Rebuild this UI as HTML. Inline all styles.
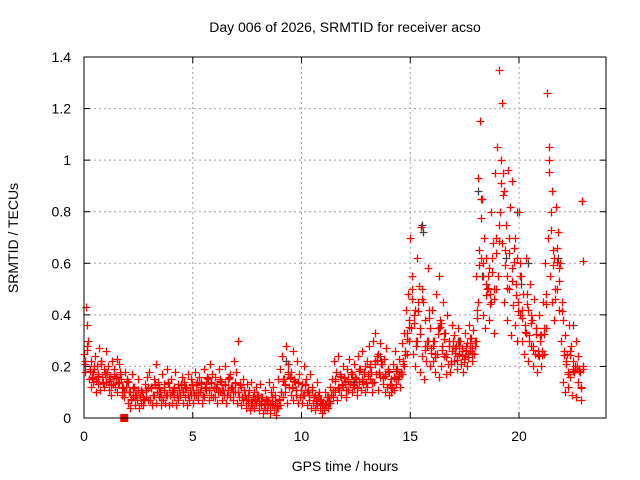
<!DOCTYPE html>
<html><head><meta charset="utf-8"><style>
body{margin:0;background:#fff}
svg{display:block;font-family:"Liberation Sans",sans-serif}
</style></head><body>
<svg id="chart" width="640" height="480">
<rect width="640" height="480" fill="#fff"/>
<g id="grid"></g>
<g id="axes"></g>
<g id="points"></g>
<rect x="84" y="57" width="522" height="361" fill="none" stroke="#000" stroke-width="1"/>
<text x="345" y="32" text-anchor="middle" font-size="14">Day 006 of 2026, SRMTID for receiver acso</text>
<text x="345" y="471" text-anchor="middle" font-size="14">GPS time / hours</text>
<text x="18" y="238" text-anchor="middle" font-size="14" transform="rotate(-90 18 238)">SRMTID / TECUs</text>
</svg>
<script>
const xTicks=[0,5,10,15,20];
const yTicks=[0,0.2,0.4,0.6,0.8,1,1.2,1.4];
const yTickLabels=["0","0.2","0.4","0.6","0.8","1","1.2","1.4"];
const seriesA=[.25,.43,.30,.22,.18,.24,.20,.27,.22,.19,.26,.20,.16,.22,.19,.23,.21,.15,.12,.18,.14,.10,.17,.12,.09,.15,.11,.08,.13,.16,.18,.12,.15,.21,.14,.10,.17,.13,.19,.12,.15,.11,.18,.13,.09,.16,.14,.12,.17,.15,.11,.18,.14,.16,.12,.19,.13,.15,.21,.17,.16,.13,.19,.14,.11,.20,.15,.17,.12,.22,.18,.30,.12,.15,.09,.13,.11,.14,.10,.12,.09,.13,.08,.11,.07,.14,.10,.12,.09,.15,.19,.24,.15,.28,.21,.18,.26,.14,.22,.17,.13,.20,.15,.11,.17,.12,.09,.14,.10,.07,.06,.10,.08,.12,.15,.22,.18,.24,.16,.20,.14,.19,.23,.17,.21,.15,.24,.19,.26,.20,.22,.28,.18,.30,.33,.25,.29,.21,.23,.27,.18,.15,.21,.26,.19,.23,.29,.33,.42,.48,.70,.55,.42,.62,.51,.74,.45,.38,.58,.35,.42,.30,.48,.55,.37,.45,.33,.40,.28,.36,.32,.28,.35,.30,.27,.33,.29,.36,.31,.34,.55,.93,1.15,.85,.70,.62,.58,.80,.68,.95,1.05,1.35,1.22,.88,.75,.96,.82,.92,.70,.62,.80,.55,.48,.62,.42,.52,.38,.46,.35,.40,.32,.45,.60,1.26,1.00,.88,.62,.82,.72,.60,.38,.32,.25,.36,.28,.22,.30,.24,.18,.84];
const seriesB=[.18,.36,.15,.12,.14,.10,.13,.11,.16,.12,.14,.11,.09,.13,.12,.10,.14,.09,.08,.12,.06,.04,.08,.05,.07,.04,.06,.05,.08,.07,.07,.05,.09,.06,.08,.05,.07,.06,.09,.05,.06,.08,.05,.07,.09,.06,.08,.05,.07,.09,.06,.09,.07,.10,.06,.08,.11,.07,.09,.08,.08,.06,.10,.07,.09,.06,.11,.08,.07,.10,.06,.08,.05,.07,.04,.06,.03,.05,.04,.06,.03,.05,.02,.04,.03,.02,.05,.03,.01,.04,.05,.08,.10,.06,.12,.09,.07,.11,.06,.08,.06,.09,.05,.07,.04,.06,.03,.05,.04,.02,.03,.05,.04,.06,.08,.10,.07,.11,.09,.12,.08,.11,.13,.10,.12,.09,.14,.11,.13,.10,.12,.15,.10,.14,.17,.11,.16,.13,.10,.12,.09,.10,.11,.13,.15,.12,.17,.20,.25,.30,.35,.25,.20,.30,.18,.24,.15,.22,.30,.20,.22,.18,.25,.16,.20,.24,.17,.21,.18,.26,.22,.19,.25,.21,.18,.24,.20,.26,.22,.25,.30,.45,.62,.40,.35,.50,.38,.45,.33,.50,.55,.80,.68,.45,.38,.50,.32,.44,.36,.30,.40,.30,.25,.33,.22,.28,.20,.25,.18,.24,.20,.25,.35,.70,.55,.45,.38,.50,.42,.30,.14,.10,.12,.16,.09,.18,.08,.14,.07,.61];
const seriesC=[.22,.28,.19,.16,.20,.15,.17,.22,.14,.18,.18,.15,.13,.17,.16,.14,.18,.12,.10,.15,.10,.07,.12,.09,.11,.08,.10,.07,.11,.12,.12,.09,.13,.10,.12,.08,.11,.09,.14,.09,.10,.12,.09,.11,.13,.10,.12,.09,.11,.13,.09,.13,.10,.14,.09,.12,.16,.11,.14,.12,.12,.10,.15,.11,.13,.09,.16,.12,.10,.14,.10,.13,.08,.11,.07,.09,.06,.08,.07,.09,.06,.08,.05,.07,.06,.05,.08,.06,.04,.07,.10,.15,.13,.18,.16,.12,.15,.09,.14,.11,.09,.13,.10,.09,.11,.08,.06,.09,.07,.05,.05,.08,.06,.09,.11,.15,.12,.17,.13,.16,.11,.15,.18,.13,.16,.12,.19,.15,.18,.14,.17,.21,.14,.22,.24,.18,.22,.16,.17,.19,.13,.12,.16,.19,.17,.18,.22,.26,.33,.38,.50,.40,.30,.45,.35,.50,.28,.30,.42,.27,.30,.25,.35,.38,.28,.33,.25,.30,.22,.30,.27,.24,.30,.26,.23,.28,.25,.31,.27,.30,.42,.65,.85,.60,.52,.55,.48,.62,.50,.70,.75,1.0,.95,.65,.55,.70,.58,.66,.52,.45,.60,.42,.36,.48,.32,.40,.28,.35,.26,.32,.26,.35,.48,1.05,.80,.65,.50,.66,.58,.45,.26,.22,.18,.26,.19,.20,.20,.19,.12,.20];
const grayTimes=[15.55,15.6,18.1,18.3,19.4,19.9,20.1,20.4,21.8,22.5,16.3,17.2,13.6,22.9,9.3,12.4];
const grayValues=[.75,.72,.88,.55,.62,.80,.52,.60,.62,.36,.35,.30,.24,.84,.22,.14];
const timeStep=0.1;

const X0=84,X1=606,Y0=418,Y1=57,XMAX=24,YMAX=1.4;
const sx=v=>X0+v/XMAX*(X1-X0);
const sy=v=>Y0-v/YMAX*(Y0-Y1);
const NS="http://www.w3.org/2000/svg";
const grid=document.getElementById('grid'),axes=document.getElementById('axes'),pts=document.getElementById('points');
function mk(tag,attrs,parent){const e=document.createElementNS(NS,tag);for(const k in attrs)e.setAttribute(k,attrs[k]);parent.appendChild(e);return e;}
xTicks.forEach(t=>{const x=sx(t);
 if(t>0){const g=mk('line',{x1:x,x2:x,y1:Y1,y2:Y0,stroke:'#a0a0a0','stroke-dasharray':'2,3'},grid);
 
 }
 mk('line',{x1:x,x2:x,y1:Y0,y2:Y0-6,stroke:'#000'},axes);
 mk('line',{x1:x,x2:x,y1:Y1,y2:Y1+6,stroke:'#000'},axes);
 const l=mk('text',{x:x,y:Y0+23,'text-anchor':'middle','font-size':14},axes);l.textContent=t;
 
 });
yTicks.forEach((t,i)=>{const y=sy(t);
 if(t>0&&t<YMAX){const g=mk('line',{x1:X0,x2:X1,y1:y,y2:y,stroke:'#a0a0a0','stroke-dasharray':'2,3'},grid);
 
 }
 mk('line',{x1:X0,x2:X0+6,y1:y,y2:y,stroke:'#000'},axes);
 mk('line',{x1:X1,x2:X1-6,y1:y,y2:y,stroke:'#000'},axes);
 const l=mk('text',{x:X0-13,y:y+5,'text-anchor':'end','font-size':14},axes);l.textContent=yTickLabels[i];
 
 });
function plus(t,v,color,name){const x=Math.round(sx(t))+0.5,y=Math.round(sy(v))+0.5;
 const p=mk('path',{d:`M${x-4} ${y}H${x+4}M${x} ${y-4}V${y+4}`,stroke:color,'stroke-width':1.3,fill:'none'},pts);
 
 }
grayTimes.forEach((t,i)=>plus(t,grayValues[i],'#404040','gray-point'));
[seriesA,seriesB,seriesC].forEach((s,k)=>s.forEach((v,i)=>plus(i*timeStep+k*0.03,v,'#ff0000','red-point')));
seriesC.forEach((v,i)=>plus(i*timeStep+0.06,v*0.9+0.01,'#ff0000','red-point'));
const sq=mk('rect',{x:sx(1.85)-4,y:Y0-4,width:8,height:8,fill:'#ff0000'},pts);


</script>
</body></html>
